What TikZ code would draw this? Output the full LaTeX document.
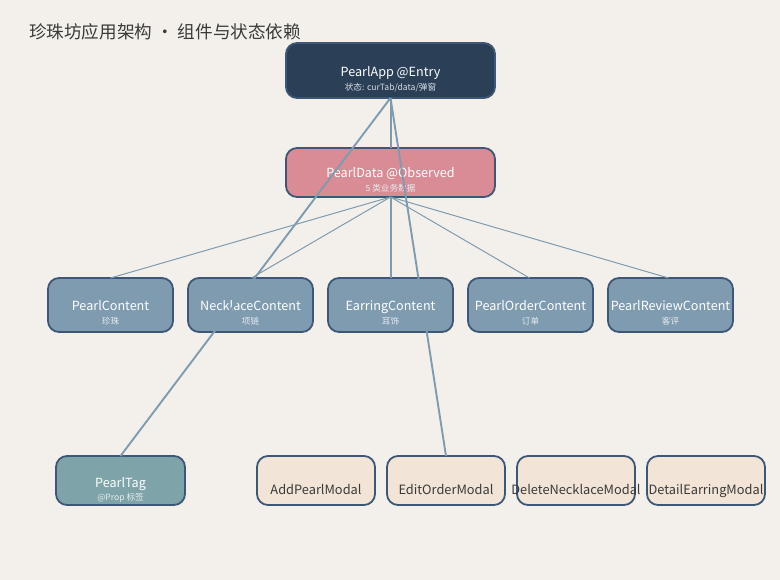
\documentclass[tikz,border=0pt]{standalone}
\usepackage{fontspec}
\setmainfont{Noto Sans CJK SC}
\definecolor{bgc}{HTML}{F3F0EB}
\definecolor{bordc}{HTML}{3D5877}
\definecolor{appc}{HTML}{2B3F57}
\definecolor{datac}{HTML}{D98C95}
\definecolor{compc}{HTML}{7F9BB0}
\definecolor{tagc}{HTML}{7EA3A8}
\definecolor{modc}{HTML}{F2E4D6}
\definecolor{edgec}{HTML}{7F9BB0}
\definecolor{titlec}{HTML}{3A3A3A}
\definecolor{subc}{HTML}{E6ECF1}
\begin{document}
\begin{tikzpicture}[x=1pt,y=-1pt,
  box/.style={draw=bordc, line width=1.8pt, rounded corners=11pt, inner sep=0pt, outer sep=0pt},
  maint/.style={text=white, font=\fontsize{12.6}{14}\selectfont, inner sep=0pt, anchor=base},
  subt/.style={text=subc, font=\fontsize{8.6}{10}\selectfont, inner sep=0pt, anchor=base},
  modt/.style={text=titlec, font=\fontsize{12.8}{14}\selectfont, inner sep=0pt, anchor=base},
  edgeA/.style={draw=edgec, line width=1.9pt},
  edgeB/.style={draw=edgec, line width=1.0pt},
  edgeC/.style={draw=edgec, line width=2.2pt}]
\fill[bgc] (0,0) rectangle (780,580);
\useasboundingbox (0,0) rectangle (780,580);
% title
\node[anchor=base west, text=titlec, font=\fontsize{17.6}{20}\selectfont, inner sep=0pt] (title) at (29,39) {珍珠坊应用架构 · 组件与状态依赖};
% top
\node[box, fill=appc, minimum width=209pt, minimum height=55pt] (app) at (390.5,70.5) {};
\node[maint] (appT) at (390.5,76.5) {PearlApp @Entry};
\node[subt, text=white!82!appc] (appS) at (390.5,90.5) {状态: curTab/data/弹窗};
\node[box, fill=datac, minimum width=209pt, minimum height=49pt] (data) at (390.5,172.5) {};
\node[maint] (dataT) at (390.5,178) {PearlData @Observed};
\node[subt] (dataS) at (390.5,192) {5 类业务数据};
% components
\foreach \n/\x/\a/\b in {pc/110.5/PearlContent/珍珠, nc/250.5/NecklaceContent/项链, ec/390.5/EarringContent/耳饰, oc/530.5/PearlOrderContent/订单, rc/670.5/PearlReviewContent/客评}{
  \node[box, fill=compc, minimum width=125pt, minimum height=54pt] (\n) at (\x,305) {};
  \node[maint] (\n T) at (\x,311) {\a};
  \node[subt] (\n S) at (\x,325) {\b};
}
% tag
\node[box, fill=tagc, minimum width=129pt, minimum height=49pt] (tag) at (120.5,480.5) {};
\node[maint] (tagT) at (120.5,487) {PearlTag};
\node[subt] (tagS) at (120.5,500) {@Prop 标签};
% modals
\foreach \n/\x/\a in {m1/316/AddPearlModal, m2/446/EditOrderModal, m3/576/DeleteNecklaceModal, m4/706/DetailEarringModal}{
  \node[box, fill=modc, minimum width=118pt, minimum height=49pt] (\n) at (\x,480.5) {};
  \node[modt] (\n T) at (\x,494.5) {\a};
}
% edges (drawn above nodes)
\draw[edgeC] ([xshift=0.5pt]app.south) -- ([xshift=0.5pt]data.north);
\draw[edgeA] (app.south) -- (tag.north);
\draw[edgeA] (app.south) -- (m2.north);
\draw[edgeB] (data.south) -- (pc.north);
\draw[edgeB] (data.south) -- ([xshift=1pt]nc.north);
\draw[edgeC] ([xshift=0.5pt]data.south) -- ([xshift=0.5pt]ec.north);
\draw[edgeB] (data.south) -- ([xshift=-1pt]oc.north);
\draw[edgeB] (data.south) -- ([xshift=-2pt]rc.north);
\end{tikzpicture}
\end{document}
